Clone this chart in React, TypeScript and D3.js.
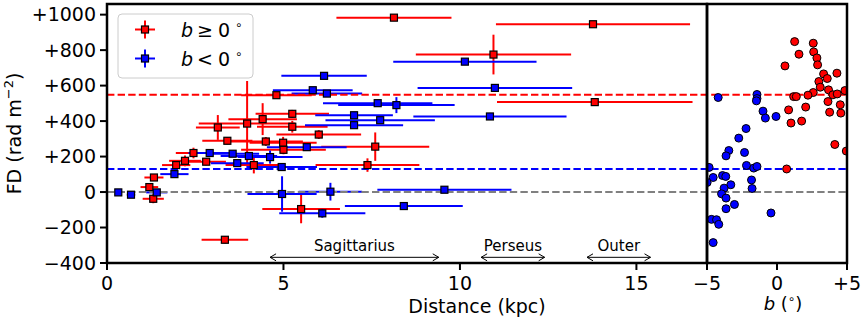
import React from 'react';
import * as d3 from 'd3';

// left panel: Faraday depth vs distance (kpc), b >= 0 in red, b < 0 in blue
const distRed = [8.13, 13.77, 10.95, 13.82, 4.80, 3.97, 4.41, 5.25, 3.14, 5.25, 6.00, 3.41, 4.50, 4.99, 5.00, 7.60, 7.38, 2.81, 4.16, 2.45, 2.21, 1.96, 1.33, 1.20, 1.31, 5.50, 3.34];
const distRedErr = [1.63, 2.75, 2.20, 2.77, 1.00, 1.37, 0.97, 1.04, 0.62, 1.00, 1.20, 0.71, 1.05, 0.95, 1.20, 1.53, 1.47, 0.56, 0.80, 0.50, 0.45, 0.40, 0.27, 0.25, 0.30, 1.10, 0.66];
const fdRed = [983, 946, 775, 507, 546, 386, 411, 441, 364, 368, 324, 289, 285, 278, 238, 256, 152, 171, 152, 220, 176, 152, 82, 28, -38, -96, -269];
const fdRedErr = [10, 10, 112, 15, 15, 240, 90, 22, 70, 33, 25, 20, 25, 33, 25, 80, 38, 20, 47, 30, 30, 20, 15, 20, 25, 80, 20];

const distBlue = [6.15, 5.83, 6.23, 10.14, 10.99, 7.67, 8.20, 7.00, 7.74, 7.00, 10.85, 5.66, 2.91, 3.56, 4.02, 4.62, 3.69, 4.95, 1.91, 1.41, 0.32, 0.68, 4.96, 6.33, 9.56, 8.41, 6.10];
const distBlueErr = [1.21, 1.13, 1.00, 2.03, 2.19, 1.55, 1.65, 1.10, 1.55, 1.39, 2.17, 1.13, 0.60, 0.75, 0.80, 0.92, 0.75, 1.00, 0.40, 0.30, 0.06, 0.12, 0.98, 0.90, 1.90, 1.67, 1.22];
const fdBlue = [655, 574, 555, 735, 587, 501, 490, 433, 405, 377, 426, 253, 220, 216, 203, 197, 163, 141, 101, -2, -2, -15, -11, 2, 13, -79, -120];
const fdBlueErr = [15, 10, 15, 10, 10, 10, 45, 10, 10, 10, 20, 10, 15, 15, 20, 37, 10, 15, 10, 10, 5, 5, 100, 50, 10, 10, 25];

// right panel: Faraday depth vs galactic latitude b (deg)
const latRed = [1.26, 1.57, 2.59, 2.62, 2.85, 2.90, 0.57, 3.33, 3.59, 4.28, 2.99, 3.09, 3.68, 4.85, 2.59, 2.21, 1.19, 1.38, 3.99, 4.30, 3.64, 4.52, 2.05, 0.83, 3.76, 4.56, 1.76, 1.00, 4.13, 4.95, 0.69];
const fdLatRed = [848, 777, 839, 790, 756, 717, 711, 666, 640, 670, 623, 591, 576, 572, 561, 546, 538, 538, 548, 553, 510, 492, 479, 463, 450, 445, 400, 389, 268, 231, 130];
const latBlue = [-4.20, -1.43, -1.43, -1.47, -1.00, -0.83, -0.07, -2.21, -2.73, -3.44, -3.64, -2.32, -2.18, -1.66, -1.43, -4.85, -4.56, -4.99, -3.89, -3.66, -3.30, -3.78, -1.82, -1.78, -3.96, -3.64, -3.64, -3.04, -0.43, -4.68, -4.32, -4.16, -4.56];
const fdLatBlue = [533, 550, 527, 514, 456, 417, 426, 358, 304, 234, 204, 223, 150, 135, 144, 139, 82, 54, 93, 88, 41, 22, 68, 20, -10, -34, -94, -70, -118, -154, -156, -182, -285];

// mean values (dashed lines)
const meanRed = 549;
const meanBlue = 130;

const fdTicks = [-400, -200, 0, 200, 400, 600, 800, 1000];
const fdTickLabels = ['\u2212400', '\u2212200', '0', '+200', '+400', '+600', '+800', '+1000'];
const distTicks = [0, 5, 10, 15];
const latTicks = [-5, 0, 5];
const latTickLabels = ['\u22125', '0', '+5'];

// spiral arm distance ranges
const armNames = ['Sagittarius', 'Perseus', 'Outer'];
const armStart = [4.62, 10.6, 13.6];
const armEnd = [9.4, 12.4, 15.4];

const RED = '#ff0000';
const BLUE = '#0000ff';
const FONT = 'DejaVu Sans';

const x = d3.scaleLinear().domain([0, 17]).range([107, 707]);
const xb = d3.scaleLinear().domain([-5, 5]).range([707, 847]);
const y = d3.scaleLinear().domain([-400, 1060]).range([263, 4]);

const SQ = 7;

function ErrSet({ d, de, f, fe, color }: { d: number[]; de: number[]; f: number[]; fe: number[]; color: string }) {
  return (
    <g stroke={color} strokeWidth={2}>
      {d.map((v, i) => (
        <g key={i}>
          <line x1={x(v - de[i])} x2={x(v + de[i])} y1={y(f[i])} y2={y(f[i])} />
          <line x1={x(v)} x2={x(v)} y1={y(f[i] - fe[i])} y2={y(f[i] + fe[i])} />
        </g>
      ))}
    </g>
  );
}

function Squares({ d, f, color }: { d: number[]; f: number[]; color: string }) {
  return (
    <g fill={color} stroke="#000" strokeWidth={1.2}>
      {d.map((v, i) => (
        <rect key={i} x={x(v) - SQ / 2} y={y(f[i]) - SQ / 2} width={SQ} height={SQ} />
      ))}
    </g>
  );
}

function Arrow({ x1, x2, yy }: { x1: number; x2: number; yy: number }) {
  const h = 6, w = 3.5;
  return (
    <g stroke="#000" strokeWidth={1} fill="none">
      <line x1={x1} x2={x2} y1={yy} y2={yy} />
      <polyline points={`${x1 + h},${yy - w} ${x1},${yy} ${x1 + h},${yy + w}`} />
      <polyline points={`${x2 - h},${yy - w} ${x2},${yy} ${x2 - h},${yy + w}`} />
    </g>
  );
}

export default function App() {
  const top = 4, bottom = 263;
  const dash = '7.4 3.2';
  return (
    <svg width={862} height={319} style={{ position: 'absolute', left: 0, top: 0, background: '#fff' }} fontFamily={FONT}>
      <defs>
        <clipPath id="clipL"><rect x={107} y={top} width={600} height={bottom - top} /></clipPath>
        <clipPath id="clipR"><rect x={707} y={top} width={140} height={bottom - top} /></clipPath>
      </defs>

      {/* left panel */}
      <g clipPath="url(#clipL)">
        <ErrSet d={distRed} de={distRedErr} f={fdRed} fe={fdRedErr} color={RED} />
        <ErrSet d={distBlue} de={distBlueErr} f={fdBlue} fe={fdBlueErr} color={BLUE} />
      </g>

      {/* mean lines across both panels */}
      <g strokeWidth={2} strokeDasharray={dash} fill="none">
        <line x1={107} x2={847} y1={y(0)} y2={y(0)} stroke="#808080" />
        <line x1={107} x2={847} y1={y(meanBlue)} y2={y(meanBlue)} stroke={BLUE} />
        <line x1={107} x2={847} y1={y(meanRed)} y2={y(meanRed)} stroke={RED} />
      </g>

      <g clipPath="url(#clipL)">
        <Squares d={distRed} f={fdRed} color={RED} />
        <Squares d={distBlue} f={fdBlue} color={BLUE} />
      </g>

      {/* right panel */}
      <g clipPath="url(#clipR)" stroke="#000" strokeWidth={1}>
        {latRed.map((v, i) => (
          <circle key={'r' + i} cx={xb(v)} cy={y(fdLatRed[i])} r={4} fill={RED} />
        ))}
        {latBlue.map((v, i) => (
          <circle key={'b' + i} cx={xb(v)} cy={y(fdLatBlue[i])} r={4} fill={BLUE} />
        ))}
      </g>

      {/* arm annotations */}
      {armNames.map((n, i) => (
        <g key={n}>
          <Arrow x1={x(armStart[i])} x2={x(armEnd[i])} yy={y(-368)} />
          <text x={(x(armStart[i]) + x(armEnd[i])) / 2} y={y(-330)} textAnchor="middle" fontSize={15}>{n}</text>
        </g>
      ))}

      {/* frames */}
      <g fill="none" stroke="#000" strokeWidth={2.5}>
        <rect x={107} y={top} width={600} height={bottom - top} />
        <rect x={707} y={top} width={140} height={bottom - top} />
      </g>

      {/* axes */}
      <g fontSize={19}>
        {fdTicks.map((t, i) => (
          <g key={t}>
            <line x1={100} x2={107} y1={y(t)} y2={y(t)} stroke="#000" strokeWidth={2} />
            <text x={96} y={y(t)} dy="0.35em" textAnchor="end">{fdTickLabels[i]}</text>
          </g>
        ))}
        {distTicks.map((t) => (
          <g key={t}>
            <line x1={x(t)} x2={x(t)} y1={bottom} y2={bottom + 7} stroke="#000" strokeWidth={2} />
            <text x={x(t)} y={290} textAnchor="middle">{t}</text>
          </g>
        ))}
        {latTicks.map((t, i) => (
          <g key={t}>
            <line x1={xb(t)} x2={xb(t)} y1={bottom} y2={bottom + 7} stroke="#000" strokeWidth={2} />
            <text x={xb(t)} y={290} textAnchor="middle">{latTickLabels[i]}</text>
          </g>
        ))}
        <text x={477} y={313} textAnchor="middle">Distance (kpc)</text>
        <text x={783} y={310} textAnchor="middle" fontSize={18}>
          <tspan fontStyle="italic">b</tspan> (<tspan fontSize={12} dy={-7}>{'\u2218'}</tspan><tspan dy={7}>)</tspan>
        </text>
        <text transform={`translate(21,${(top + bottom) / 2}) rotate(-90)`} textAnchor="middle">
          FD (rad m<tspan fontSize={13} dy={-8}>{'\u22122'}</tspan><tspan dy={8}>)</tspan>
        </text>
      </g>

      {/* legend */}
      <g>
        <rect x={118} y={14} width={135} height={64} rx={4} fill="#fff" fillOpacity={0.8} stroke="#cccccc" strokeWidth={1} />
        {[{ c: RED, yy: 29.5, rel: '\u2265' }, { c: BLUE, yy: 58.5, rel: '<' }].map((e) => (
          <g key={e.c}>
            <line x1={135} x2={155} y1={e.yy} y2={e.yy} stroke={e.c} strokeWidth={2} />
            <line x1={145} x2={145} y1={e.yy - 9} y2={e.yy + 9} stroke={e.c} strokeWidth={2} />
            <rect x={145 - SQ / 2} y={e.yy - SQ / 2} width={SQ} height={SQ} fill={e.c} stroke="#000" strokeWidth={1.2} />
            <text x={181} y={e.yy + 7} fontSize={19}>
              <tspan fontStyle="italic">b</tspan>
              <tspan dx={4}>{e.rel}</tspan>
              <tspan dx={5}>0</tspan>
              <tspan dx={5} fontSize={12} dy={-8}>{'\u2218'}</tspan>
            </text>
          </g>
        ))}
      </g>
    </svg>
  );
}
